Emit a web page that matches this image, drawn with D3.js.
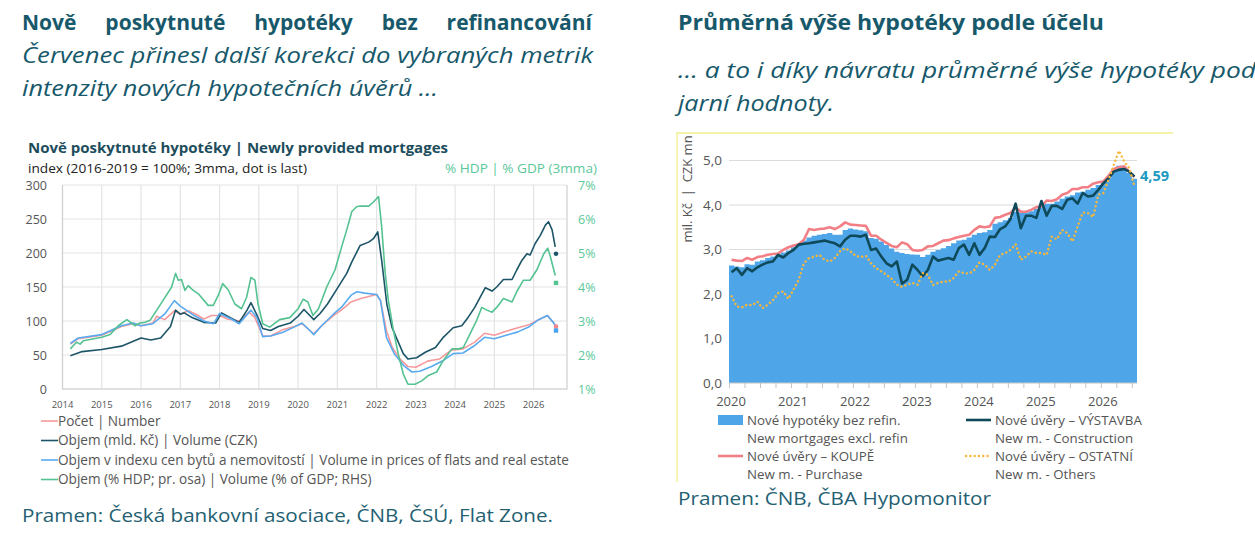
<!DOCTYPE html>
<html>
<head>
<meta charset="utf-8">
<script src="https://cdn.jsdelivr.net/npm/d3@7"></script>
<style>
  body { margin: 0; background: #fff; }
  svg { display: block; }
</style>
</head>
<body>
<svg id="chart" width="1255" height="541"></svg>
<script>
// ---- left chart data: [year, value] (index 2016-2019 = 100) ----
var pocet = [[2014.2, 66], [2014.4, 74], [2015.0, 79], [2015.5, 92], [2015.8, 96], [2016.0, 93], [2016.3, 97],
    [2016.4, 107], [2016.6, 102], [2016.85, 115], [2017.0, 110], [2017.2, 115], [2017.4, 110], [2017.6, 103],
    [2017.8, 108], [2018.0, 108], [2018.2, 103], [2018.5, 100], [2018.75, 113], [2018.9, 105], [2019.1, 78],
    [2019.3, 78], [2019.6, 87], [2019.9, 92], [2020.1, 96], [2020.3, 86], [2020.4, 81], [2020.6, 93],
    [2020.9, 108], [2021.1, 116], [2021.35, 128], [2021.6, 133], [2021.8, 136], [2022.0, 139], [2022.1, 130],
    [2022.25, 86], [2022.4, 61], [2022.6, 44], [2022.8, 33], [2023.0, 32], [2023.3, 41], [2023.6, 44],
    [2023.9, 57], [2024.2, 59], [2024.5, 69], [2024.75, 82], [2025.0, 79], [2025.3, 85], [2025.6, 90],
    [2025.9, 95], [2026.1, 101], [2026.35, 108], [2026.5, 98], [2026.55, 94]];
var objem = [[2014.2, 49], [2014.5, 55], [2015.0, 58], [2015.5, 63], [2016.0, 75], [2016.25, 72], [2016.5, 75],
    [2016.75, 92], [2016.88, 116], [2017.0, 110], [2017.1, 112], [2017.3, 105], [2017.6, 98], [2017.9, 97],
    [2018.05, 112], [2018.3, 104], [2018.5, 98], [2018.7, 116], [2018.8, 127], [2018.95, 109], [2019.1, 89],
    [2019.3, 86], [2019.5, 92], [2019.8, 97], [2020.0, 107], [2020.15, 117], [2020.3, 108], [2020.4, 102],
    [2020.56, 111], [2020.75, 125], [2021.0, 148], [2021.24, 170], [2021.37, 187], [2021.58, 211],
    [2021.8, 216], [2021.92, 221], [2022.03, 231], [2022.13, 189], [2022.26, 125], [2022.39, 91],
    [2022.5, 76], [2022.68, 52], [2022.8, 44], [2023.02, 46], [2023.24, 54], [2023.5, 61], [2023.7, 76],
    [2023.95, 90], [2024.17, 93], [2024.34, 106], [2024.5, 120], [2024.64, 135], [2024.77, 149],
    [2024.94, 144], [2025.06, 150], [2025.23, 161], [2025.45, 161], [2025.57, 175], [2025.7, 189],
    [2025.83, 199], [2025.91, 197], [2026.04, 214], [2026.17, 226], [2026.3, 241], [2026.38, 246],
    [2026.47, 234], [2026.55, 209]];
var objemCeny = [[2014.2, 67], [2014.4, 75], [2015.0, 80], [2015.5, 93], [2015.8, 97], [2016.0, 93],
    [2016.3, 96], [2016.6, 110], [2016.85, 130], [2017.0, 122], [2017.15, 116], [2017.3, 110], [2017.6, 100],
    [2017.85, 96], [2018.0, 111], [2018.3, 103], [2018.5, 96], [2018.8, 116], [2018.95, 105], [2019.1, 77],
    [2019.3, 78], [2019.6, 83], [2019.9, 91], [2020.1, 97], [2020.3, 86], [2020.4, 80], [2020.6, 93],
    [2020.9, 110], [2021.1, 120], [2021.35, 138], [2021.5, 143], [2021.7, 141], [2022.0, 139], [2022.1, 130],
    [2022.25, 76], [2022.45, 52], [2022.7, 34], [2022.9, 25], [2023.1, 26], [2023.4, 33], [2023.7, 42],
    [2023.95, 52], [2024.2, 53], [2024.5, 64], [2024.75, 76], [2025.0, 74], [2025.3, 79], [2025.6, 84],
    [2025.9, 92], [2026.1, 101], [2026.35, 108], [2026.5, 98], [2026.55, 93]];
// % of GDP (right axis)
var objemHdp = [[2014.2, 2.18], [2014.36, 2.38], [2014.45, 2.32], [2014.53, 2.42], [2015.0, 2.52],
    [2015.21, 2.60], [2015.42, 2.86], [2015.64, 3.04], [2015.85, 2.86], [2015.97, 2.94], [2016.1, 2.96],
    [2016.23, 3.02], [2016.48, 3.46], [2016.78, 4.00], [2016.88, 4.40], [2016.95, 4.20], [2017.03, 4.22],
    [2017.12, 3.90], [2017.2, 4.04], [2017.33, 3.90], [2017.46, 3.80], [2017.71, 3.46], [2017.84, 3.46],
    [2017.97, 3.76], [2018.08, 4.10], [2018.22, 3.92], [2018.39, 3.50], [2018.56, 3.36], [2018.69, 3.70],
    [2018.8, 4.28], [2018.9, 4.20], [2018.98, 3.50], [2019.1, 2.92], [2019.28, 2.82], [2019.53, 3.04],
    [2019.79, 3.10], [2020.0, 3.36], [2020.13, 3.64], [2020.25, 3.56], [2020.38, 3.16], [2020.52, 3.36],
    [2020.73, 4.00], [2020.94, 4.50], [2021.11, 5.18], [2021.24, 5.68], [2021.37, 6.22], [2021.49, 6.36],
    [2021.58, 6.38], [2021.8, 6.38], [2021.92, 6.50], [2022.05, 6.66], [2022.13, 5.76], [2022.22, 4.40],
    [2022.3, 3.60], [2022.43, 2.72], [2022.55, 2.04], [2022.68, 1.44], [2022.8, 1.14], [2022.98, 1.14],
    [2023.15, 1.24], [2023.32, 1.40], [2023.53, 1.50], [2023.7, 1.84], [2023.92, 2.18], [2024.09, 2.18],
    [2024.21, 2.22], [2024.38, 2.62], [2024.55, 3.02], [2024.68, 3.40], [2024.81, 3.32], [2024.94, 3.26],
    [2025.06, 3.40], [2025.23, 3.66], [2025.45, 3.56], [2025.57, 3.86], [2025.74, 4.20], [2025.91, 4.20],
    [2026.08, 4.50], [2026.26, 4.98], [2026.36, 5.14], [2026.43, 4.88], [2026.55, 4.34]];
// last observation dots
var lastYear = 2026.57;
var pocetLast = 92, objemLast = 199, objemCenyLast = 86, objemHdpLast = 4.12;
var yearsLeft = d3.range(2014, 2027);
var ticksLeft = [0, 50, 100, 150, 200, 250, 300];
var ticksRight = [1, 2, 3, 4, 5, 6, 7];

// ---- right chart data: monthly from Jan 2020, CZK mn ----
var startYear = 2020;
var hypotekyBezRefin = [2.64, 2.62, 2.60, 2.67, 2.66, 2.73, 2.76, 2.81, 2.84, 2.88, 2.93, 2.98,
    3.05, 3.11, 3.20, 3.27, 3.31, 3.33, 3.35, 3.37, 3.33, 3.33, 3.44, 3.47,
    3.45, 3.43, 3.41, 3.26, 3.24, 3.18, 3.10, 3.02, 2.95, 2.92, 2.90, 2.89,
    2.88, 2.83, 2.88, 2.95, 2.99, 3.03, 3.08, 3.14, 3.20, 3.22, 3.27, 3.33,
    3.37, 3.39, 3.44, 3.58, 3.61, 3.66, 3.71, 3.85, 3.83, 3.83, 3.86, 3.91,
    3.98, 4.03, 4.03, 4.08, 4.14, 4.19, 4.22, 4.28, 4.30, 4.34, 4.38, 4.45,
    4.50, 4.60, 4.80, 4.88, 4.86, 4.72, 4.59];
var vystavba = [2.49, 2.58, 2.43, 2.58, 2.51, 2.60, 2.66, 2.71, 2.73, 2.88, 2.82, 2.92,
    2.99, 3.11, 3.13, 3.14, 3.16, 3.18, 3.20, 3.17, 3.14, 3.07, 3.22, 3.31,
    3.31, 3.29, 3.33, 2.99, 3.02, 2.84, 2.69, 2.62, 2.73, 2.23, 2.32, 2.66,
    2.54, 2.40, 2.54, 2.84, 2.75, 2.78, 2.81, 2.77, 3.03, 3.11, 2.88, 3.14,
    2.88, 3.03, 3.29, 3.28, 3.46, 3.52, 3.68, 4.03, 3.48, 3.76, 3.76, 3.71,
    4.09, 3.76, 3.98, 3.98, 3.91, 4.12, 4.15, 4.03, 4.27, 4.19, 4.21, 4.34,
    4.49, 4.60, 4.75, 4.79, 4.81, 4.75, 4.64];
var koupe = [2.77, 2.75, 2.74, 2.81, 2.77, 2.83, 2.85, 2.88, 2.90, 2.91, 2.99, 3.05,
    3.09, 3.12, 3.22, 3.46, 3.44, 3.46, 3.47, 3.50, 3.46, 3.52, 3.61, 3.56,
    3.55, 3.54, 3.53, 3.31, 3.31, 3.22, 3.15, 3.08, 3.05, 3.16, 3.12, 2.99,
    2.97, 2.99, 3.07, 3.08, 3.14, 3.20, 3.21, 3.25, 3.28, 3.31, 3.33, 3.44,
    3.52, 3.50, 3.52, 3.71, 3.73, 3.78, 3.82, 3.95, 3.85, 3.85, 3.89, 3.95,
    3.97, 4.10, 4.09, 4.13, 4.23, 4.27, 4.36, 4.36, 4.40, 4.40, 4.48, 4.51,
    4.53, 4.66, 4.81, 4.85, 4.87, 4.75, 4.63];
var ostatni = [1.95, 1.72, 1.70, 1.76, 1.75, 1.83, 1.68, 1.76, 1.86, 2.02, 2.06, 1.89,
    2.10, 2.32, 2.69, 2.81, 2.84, 2.88, 2.77, 2.73, 2.81, 2.96, 3.03, 2.96,
    2.86, 2.83, 2.86, 2.69, 2.58, 2.51, 2.43, 2.34, 2.21, 2.16, 2.21, 2.25,
    2.21, 2.47, 2.43, 2.20, 2.25, 2.28, 2.28, 2.36, 2.51, 2.47, 2.46, 2.54,
    2.71, 2.66, 2.54, 2.66, 2.88, 2.92, 2.99, 3.12, 2.77, 2.84, 2.96, 2.92,
    2.92, 2.88, 3.29, 3.23, 3.44, 3.37, 3.18, 3.52, 3.83, 3.82, 3.73, 4.23,
    4.27, 4.57, 4.90, 5.22, 4.98, 4.83, 4.42];
var yearsRight = d3.range(2020, 2027);
var ticksRightChart = [0, 1, 2, 3, 4, 5];

var headColor = "#17596b";
var svg = d3.select("#chart");

// ---------------- headings ----------------
function justify(words, x0, x1, y, size, weight, style) {
    let g = svg.append("g");
    let t = g.selectAll("text").data(words).enter().append("text")
        .attr("y", y)
        .attr("font-family", "Open Sans, sans-serif")
        .attr("font-size", size)
        .attr("font-weight", weight)
        .attr("font-style", style)
        .attr("fill", headColor)
        .text(function(d) { return d; });
    let widths = [];
    t.each(function() { widths.push(this.getComputedTextLength()); });
    let gap = (x1 - x0 - d3.sum(widths)) / (words.length - 1);
    let x = x0;
    t.attr("x", function(d, i) { let p = x; x += widths[i] + gap; return p; });
}

function headLine(txt, x, y, size, weight, style, len) {
    let t = svg.append("text")
        .attr("x", x).attr("y", y)
        .attr("font-family", "Open Sans, sans-serif")
        .attr("font-size", size)
        .attr("font-weight", weight)
        .attr("font-style", style)
        .attr("fill", headColor)
        .text(txt);
    if (len) t.attr("textLength", len).attr("lengthAdjust", "spacingAndGlyphs");
    return t;
}

justify(["Nově", "poskytnuté", "hypotéky", "bez", "refinancování"], 22, 592, 30, 21, "bold", "normal");
headLine("Červenec přinesl další korekci do vybraných metrik", 22, 63, 22, "normal", "italic", 571);
headLine("intenzity nových hypotečních úvěrů …", 22, 96, 22, "normal", "italic", 416);
headLine("Průměrná výše hypotéky podle účelu", 678, 30, 21, "bold", "normal", 426);
headLine("… a to i díky návratu průměrné výše hypotéky pod", 678, 78, 22, "normal", "italic", 578);
headLine("jarní hodnoty.", 678, 111, 22, "normal", "italic", 156);
headLine("Pramen: Česká bankovní asociace, ČNB, ČSÚ, Flat Zone.", 22, 522, 19, "normal", "normal", 531)
    .attr("fill", "#245f72");
headLine("Pramen: ČNB, ČBA Hypomonitor", 678, 505, 19, "normal", "normal", 313)
    .attr("fill", "#245f72");

// ---------------- left chart ----------------
var chartFont = "Open Sans, sans-serif";
var xL = d3.scaleLinear().domain([2014, 2026.85]).range([62.5, 567]);
var yL = d3.scaleLinear().domain([0, 300]).range([389, 185]);
var yR = d3.scaleLinear().domain([1, 7]).range([389, 185]);
var left = svg.append("g");

left.append("text").attr("x", 28).attr("y", 153)
    .attr("font-family", chartFont).attr("font-weight", "bold").attr("font-size", 14)
    .attr("fill", "#1d4d5c")
    .attr("textLength", 420).attr("lengthAdjust", "spacingAndGlyphs")
    .text("Nově poskytnuté hypotéky | Newly provided mortgages");
left.append("text").attr("x", 28).attr("y", 172.5)
    .attr("font-family", chartFont).attr("font-size", 12.5).attr("fill", "#222")
    .attr("textLength", 279).attr("lengthAdjust", "spacingAndGlyphs")
    .text("index (2016-2019 = 100%; 3mma, dot is last)");
left.append("text").attr("x", 597).attr("y", 172.5).attr("text-anchor", "end")
    .attr("font-family", chartFont).attr("font-size", 12.5).attr("fill", "#5cc89a")
    .attr("textLength", 152).attr("lengthAdjust", "spacingAndGlyphs")
    .text("% HDP | % GDP (3mma)");

left.selectAll("line.gy").data(ticksLeft).enter().append("line")
    .attr("x1", xL(2014)).attr("x2", xL.range()[1])
    .attr("y1", function(d) { return yL(d); }).attr("y2", function(d) { return yL(d); })
    .attr("stroke", "#e4e4e4").attr("stroke-width", 1.2);
left.selectAll("line.gx").data(yearsLeft).enter().append("line")
    .attr("x1", function(d) { return xL(d); }).attr("x2", function(d) { return xL(d); })
    .attr("y1", yL(300)).attr("y2", yL(0))
    .attr("stroke", "#e4e4e4").attr("stroke-width", 1.2);
left.append("path")
    .attr("d", "M" + xL(2014) + "," + yL(300) + "V" + yL(0) + "H" + xL.range()[1] + "V" + yL(300))
    .attr("fill", "none").attr("stroke", "#cfcfcf").attr("stroke-width", 1.2);

left.selectAll("text.yl").data(ticksLeft).enter().append("text")
    .attr("x", 47).attr("y", function(d) { return yL(d); }).attr("dy", "0.4em")
    .attr("text-anchor", "end").attr("font-family", chartFont).attr("font-size", 12.5)
    .attr("fill", "#555").text(function(d) { return d; });
left.selectAll("text.yr").data(ticksRight).enter().append("text")
    .attr("x", 578).attr("y", function(d) { return yR(d); }).attr("dy", "0.4em")
    .attr("font-family", chartFont).attr("font-size", 12.5)
    .attr("fill", "#5cc89a").text(function(d) { return d + "%"; });
left.selectAll("text.xl").data(yearsLeft).enter().append("text")
    .attr("x", function(d) { return xL(d); }).attr("y", 408)
    .attr("text-anchor", "middle").attr("font-family", chartFont).attr("font-size", 9.5)
    .attr("fill", "#555").text(function(d) { return d; });

var lineL = d3.line().x(function(d) { return xL(d[0]); }).y(function(d) { return yL(d[1]); });
var lineR = d3.line().x(function(d) { return xL(d[0]); }).y(function(d) { return yR(d[1]); });
var leftSeries = [
    { data: pocet, color: "#f59a9c", line: lineL, label: "Počet | Number" },
    { data: objem, color: "#1d5568", line: lineL, label: "Objem (mld. Kč) | Volume (CZK)" },
    { data: objemCeny, color: "#5aaaf0", line: lineL, label: "Objem v indexu cen bytů a nemovitostí | Volume in prices of flats and real estate" },
    { data: objemHdp, color: "#54c291", line: lineR, label: "Objem (% HDP; pr. osa) | Volume (% of GDP; RHS)" }
];
leftSeries.forEach(function(s) {
    left.append("path").attr("d", s.line(s.data))
        .attr("fill", "none").attr("stroke", s.color).attr("stroke-width", 1.6)
        .attr("stroke-linejoin", "round");
});
left.append("circle").attr("cx", xL(lastYear)).attr("cy", yL(objemLast)).attr("r", 2.3).attr("fill", "#1d5568");
left.append("circle").attr("cx", xL(lastYear)).attr("cy", yL(pocetLast)).attr("r", 2.3).attr("fill", "#f2868a");
left.append("rect").attr("x", xL(lastYear) - 2.2).attr("y", yR(objemHdpLast) - 2.2)
    .attr("width", 4.4).attr("height", 4.4).attr("fill", "#54c291");
left.append("rect").attr("x", xL(lastYear) - 2.2).attr("y", yL(objemCenyLast) - 2.2)
    .attr("width", 4.4).attr("height", 4.4).attr("fill", "#4aa3f0");

var legL = left.selectAll("g.leg").data(leftSeries).enter().append("g")
    .attr("transform", function(d, i) { return "translate(41," + (421 + i * 19.5) + ")"; });
legL.append("line").attr("x1", 0).attr("x2", 17).attr("y1", 0).attr("y2", 0)
    .attr("stroke", function(d) { return d.color; }).attr("stroke-width", 1.6);
legL.append("text").attr("x", 17).attr("dy", "0.35em")
    .attr("font-family", chartFont).attr("font-size", 13.6).attr("fill", "#555")
    .text(function(d) { return d.label; });

// ---------------- right chart ----------------
var xR2 = d3.scaleLinear().domain([startYear, startYear + hypotekyBezRefin.length / 12]).range([729, 1137]);
var yR2 = d3.scaleLinear().domain([0, 5]).range([383, 160.5]);
var right = svg.append("g");

right.append("path").attr("d", "M677,482V133H1173")
    .attr("fill", "none").attr("stroke", "#f4ef8c").attr("stroke-width", 1.3);

right.selectAll("line.gy").data(ticksRightChart.slice(1)).enter().append("line")
    .attr("x1", xR2.range()[0]).attr("x2", xR2.range()[1])
    .attr("y1", function(d) { return yR2(d); }).attr("y2", function(d) { return yR2(d); })
    .attr("stroke", "#dcdcdc").attr("stroke-width", 1.2);

var areaData = hypotekyBezRefin.concat([hypotekyBezRefin[hypotekyBezRefin.length - 1]]);
right.append("path")
    .attr("d", d3.area().curve(d3.curveStepAfter)
        .x(function(d, i) { return xR2(startYear + i / 12); })
        .y0(yR2(0)).y1(function(d) { return yR2(d); })(areaData))
    .attr("fill", "#4ea6e9");

var monthLine = d3.line()
    .x(function(d, i) { return xR2(startYear + (i + 0.5) / 12); })
    .y(function(d) { return yR2(d); });
right.append("path").attr("d", monthLine(koupe))
    .attr("fill", "none").attr("stroke", "#f27f86").attr("stroke-width", 2.6)
    .attr("stroke-linejoin", "round");
right.append("path").attr("d", monthLine(vystavba))
    .attr("fill", "none").attr("stroke", "#0f4a5a").attr("stroke-width", 2.6)
    .attr("stroke-linejoin", "round");
right.append("path").attr("d", monthLine(ostatni))
    .attr("fill", "none").attr("stroke", "#f8b73c").attr("stroke-width", 2.4)
    .attr("stroke-linecap", "round").attr("stroke-dasharray", "0.1,4.2");

// axis
var xAxis = d3.axisBottom(xR2)
    .tickValues(d3.range(startYear, 2026.6, 0.25))
    .tickSize(5).tickFormat("");
var ax = right.append("g").attr("transform", "translate(0," + yR2(0) + ")").call(xAxis);
ax.selectAll("line,path").attr("stroke", "#c4c4c4");
ax.select("path.domain").attr("d", "M" + xR2.range()[0] + ",0H" + xR2.range()[1]);

right.selectAll("text.xl").data(yearsRight).enter().append("text")
    .attr("x", function(d) { return xR2(d) + 2; }).attr("y", 406)
    .attr("text-anchor", "middle").attr("font-family", chartFont).attr("font-size", 13)
    .attr("fill", "#555").text(function(d) { return d; });
right.selectAll("text.yl").data(ticksRightChart).enter().append("text")
    .attr("x", 722).attr("y", function(d) { return yR2(d); }).attr("dy", "0.35em")
    .attr("text-anchor", "end").attr("font-family", chartFont).attr("font-size", 13.5)
    .attr("fill", "#555").text(function(d) { return d3.format(".1f")(d).replace(".", ","); });
right.append("text")
    .attr("transform", "translate(692,189) rotate(-90)")
    .attr("text-anchor", "middle").attr("font-family", chartFont).attr("font-size", 13)
    .attr("fill", "#555").attr("xml:space", "preserve")
    .text("mil. Kč  |  CZK mn");
right.append("text").attr("x", 1140).attr("y", 181)
    .attr("font-family", chartFont).attr("font-weight", "bold").attr("font-size", 14.5)
    .attr("fill", "#1d9ac0")
    .text(d3.format(".2f")(hypotekyBezRefin[hypotekyBezRefin.length - 1]).replace(".", ","));

// legend
var legR = [
    { x: 718, y: 420, kind: "rect", color: "#4ea6e9", l1: "Nové hypotéky bez refin.", l2: "New mortgages excl. refin" },
    { x: 718, y: 456, kind: "line", color: "#f27f86", l1: "Nové úvěry – KOUPĚ", l2: "New m. - Purchase" },
    { x: 966, y: 420, kind: "line", color: "#0f4a5a", l1: "Nové úvěry – VÝSTAVBA", l2: "New m. - Construction" },
    { x: 966, y: 456, kind: "dot", color: "#f8b73c", l1: "Nové úvěry – OSTATNÍ", l2: "New m. - Others" }
];
var lr = right.selectAll("g.leg").data(legR).enter().append("g")
    .attr("transform", function(d) { return "translate(" + d.x + "," + d.y + ")"; });
lr.filter(function(d) { return d.kind === "rect"; }).append("rect")
    .attr("x", 0).attr("y", -5).attr("width", 25).attr("height", 10)
    .attr("fill", function(d) { return d.color; });
lr.filter(function(d) { return d.kind !== "rect"; }).append("line")
    .attr("x1", 0).attr("x2", 25).attr("y1", 0).attr("y2", 0)
    .attr("stroke", function(d) { return d.color; })
    .attr("stroke-width", function(d) { return d.kind === "dot" ? 2.4 : 2.6; })
    .attr("stroke-linecap", function(d) { return d.kind === "dot" ? "round" : "butt"; })
    .attr("stroke-dasharray", function(d) { return d.kind === "dot" ? "0.1,4.2" : null; });
lr.append("text").attr("x", 29).attr("dy", "0.35em")
    .attr("font-family", chartFont).attr("font-size", 13.3).attr("fill", "#555")
    .text(function(d) { return d.l1; });
lr.append("text").attr("x", 29).attr("y", 18).attr("dy", "0.35em")
    .attr("font-family", chartFont).attr("font-size", 13.3).attr("fill", "#555")
    .text(function(d) { return d.l2; });
</script>
</body>
</html>
